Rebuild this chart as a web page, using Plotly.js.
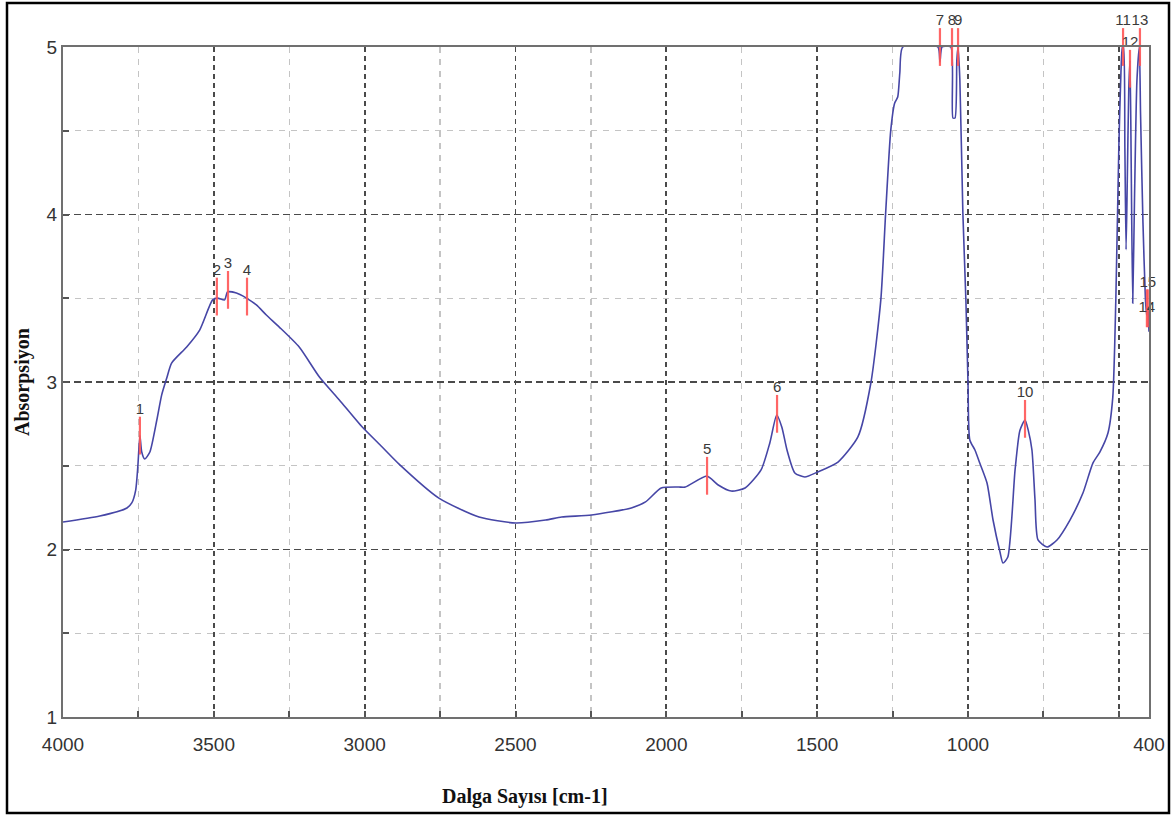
<!DOCTYPE html>
<html>
<head>
<meta charset="utf-8">
<script src="https://cdn.plot.ly/plotly-3.0.1.min.js"></script>
<style>html,body{margin:0;padding:0;background:#fff;}#chart{width:1176px;height:816px;}</style>
</head>
<body>
<div id="chart"></div>
<script>
// Spectrum (wavenumber in cm-1, absorbance)
const wavenumber = [4000,3878,3788,3772,3759,3752,3745,3739,3729,3712,3689,3673,3656,3640,3590,3547,3504,3488,3464,3455,3425,3392,3359,3326,3283,3217,3150,3084,3008,2942,2886,2754,2621,2499,2400,2347,2248,2116,2069,2017,1960,1937,1866,1828,1785,1739,1686,1657,1634,1617,1600,1574,1541,1498,1431,1365,1322,1289,1273,1256,1243,1233,1226,1216,1100,1093,1086,1057,1050,1043,1037,1033,1027,1017,1007,1000,994,977,961,937,917,894,884,868,844,828,811,800,788,778,768,738,705,662,619,586,563,536,520,510,500,493,488,485,480,476,472,467,463,459,454,448,440,432,428,420,412,408,404,400];
const absorbance = [2.164,2.200,2.248,2.278,2.355,2.493,2.68,2.582,2.540,2.582,2.773,2.922,3.024,3.113,3.209,3.310,3.490,3.501,3.490,3.537,3.531,3.501,3.460,3.400,3.328,3.209,3.030,2.893,2.731,2.612,2.510,2.307,2.194,2.158,2.176,2.194,2.206,2.248,2.284,2.367,2.373,2.373,2.439,2.385,2.349,2.367,2.475,2.636,2.803,2.73,2.594,2.457,2.433,2.463,2.522,2.672,2.994,3.490,4.009,4.504,4.666,4.701,4.845,5.0,5.0,4.91,5.0,5.0,4.576,4.576,4.922,5.0,4.803,4.009,3.490,2.994,2.654,2.594,2.516,2.397,2.176,1.985,1.919,1.955,2.475,2.71,2.773,2.71,2.594,2.30,2.057,2.015,2.057,2.176,2.337,2.516,2.582,2.696,2.91,3.49,4.40,4.85,5.0,5.0,4.40,3.79,4.20,4.75,4.92,4.30,3.47,4.10,4.80,5.0,4.60,3.95,3.50,3.40,3.45,3.30];

// Picked peaks
const peakNames = ['1','2','3','4','5','6','7','8','9','10','11','12','13','14','15'];
const peakWn = [3745,3490,3453,3390,1865,1633,1093,1053,1033,811,486,463,430,407,404];
const peakAbs = [2.68,3.51,3.55,3.51,2.44,2.81,5.0,5.0,5.0,2.78,5.0,4.87,5.0,3.44,3.44];

// Axis ticks
const xTickVals = [4000,3500,3000,2500,2000,1500,1000,500,400];
const xTickText = ['4000','3500','3000','2500','2000','1500','1000','','400'];
const xMinorVals = [3750,3250,2750,2250,1750,1250,750];
const yTickVals = [1,2,3,4,5];
const yMinorVals = [1.5,2.5,3.5,4.5];

const spectrum = {
  x: wavenumber, y: absorbance, type: 'scatter', mode: 'lines',
  line: {color: '#4646a6', width: 1.6, shape: 'spline', smoothing: 0.6}, hoverinfo: 'x+y', showlegend: false
};
const peaks = {
  x: peakWn, y: peakAbs, type: 'scatter', mode: 'markers+text',
  text: peakNames,
  textposition: peakNames.map(n => n === '14' ? 'middle center' : 'top center'),
  textfont: {family: 'Liberation Sans, Arial, sans-serif', size: 15, color: '#3a3a3a'},
  marker: {symbol: 'line-ns-open', size: 27, color: 'rgba(255,85,85,0.9)', line: {color: 'rgba(255,85,85,0.9)', width: 2.2}},
  cliponaxis: false, showlegend: false
};

const W = 1086, H = 670, L = 63, T = 47;
const px = v => (v - L) / W;
const py = v => (T + H - v) / H;

const layout = {
  width: 1176, height: 816,
  margin: {l: 63, r: 27, t: 47, b: 99},
  paper_bgcolor: '#ffffff', plot_bgcolor: '#ffffff',
  showlegend: false,
  font: {family: 'Liberation Sans, Arial, sans-serif', size: 19, color: '#333'},
  xaxis: {
    range: [4000, 400], autorange: false,
    tickmode: 'array', tickvals: xTickVals, ticktext: xTickText,
    ticks: 'inside', ticklen: 6, tickwidth: 2, tickcolor: '#555',
    ticklabelstandoff: 9,
    showline: true, linecolor: '#707070', linewidth: 2, mirror: true,
    showgrid: true, gridcolor: '#4a4a4a', gridwidth: 1.7, griddash: '5px,4px',
    zeroline: false,
    tickfont: {family: 'Liberation Sans, Arial, sans-serif', size: 19, color: '#333'},
    minor: {tickmode: 'array', tickvals: xMinorVals, ticks: 'inside', ticklen: 6, tickwidth: 2, tickcolor: '#555',
            showgrid: true, gridcolor: '#c4c4c4', gridwidth: 1.2, griddash: '6px,6px'}
  },
  yaxis: {
    range: [1, 5], autorange: false,
    tickmode: 'array', tickvals: yTickVals,
    ticks: 'inside', ticklen: 6, tickwidth: 2, tickcolor: '#555',
    showline: true, linecolor: '#707070', linewidth: 2, mirror: true,
    showgrid: true, gridcolor: '#4a4a4a', gridwidth: 1.7, griddash: '7px,4px',
    zeroline: false,
    tickfont: {family: 'Liberation Sans, Arial, sans-serif', size: 19, color: '#333'},
    minor: {tickmode: 'array', tickvals: yMinorVals, ticks: 'inside', ticklen: 6, tickwidth: 2, tickcolor: '#555',
            showgrid: true, gridcolor: '#c4c4c4', gridwidth: 1.2, griddash: '6px,6px'}
  },
  annotations: [
    {text: 'Absorpsiyon', xref: 'paper', yref: 'paper', x: px(22), y: 0.5, textangle: -90,
     showarrow: false, xanchor: 'center', yanchor: 'middle',
     font: {family: 'Liberation Serif, Times New Roman, serif', size: 20, color: '#111', weight: 'bold'}},
    {text: 'Dalga Sayısı [cm-1]', xref: 'paper', yref: 'paper', x: px(525), y: py(796),
     showarrow: false, xanchor: 'center', yanchor: 'middle',
     font: {family: 'Liberation Serif, Times New Roman, serif', size: 20, color: '#111', weight: 'bold'}}
  ],
  shapes: [
    {type: 'rect', xref: 'paper', yref: 'paper', x0: px(7), x1: px(1169), y0: py(813), y1: py(3),
     line: {color: '#000', width: 2.5}, fillcolor: 'rgba(0,0,0,0)', layer: 'above'}
  ]
};

Plotly.newPlot('chart', [spectrum, peaks], layout, {displayModeBar: false, staticPlot: true});
</script>
</body>
</html>
